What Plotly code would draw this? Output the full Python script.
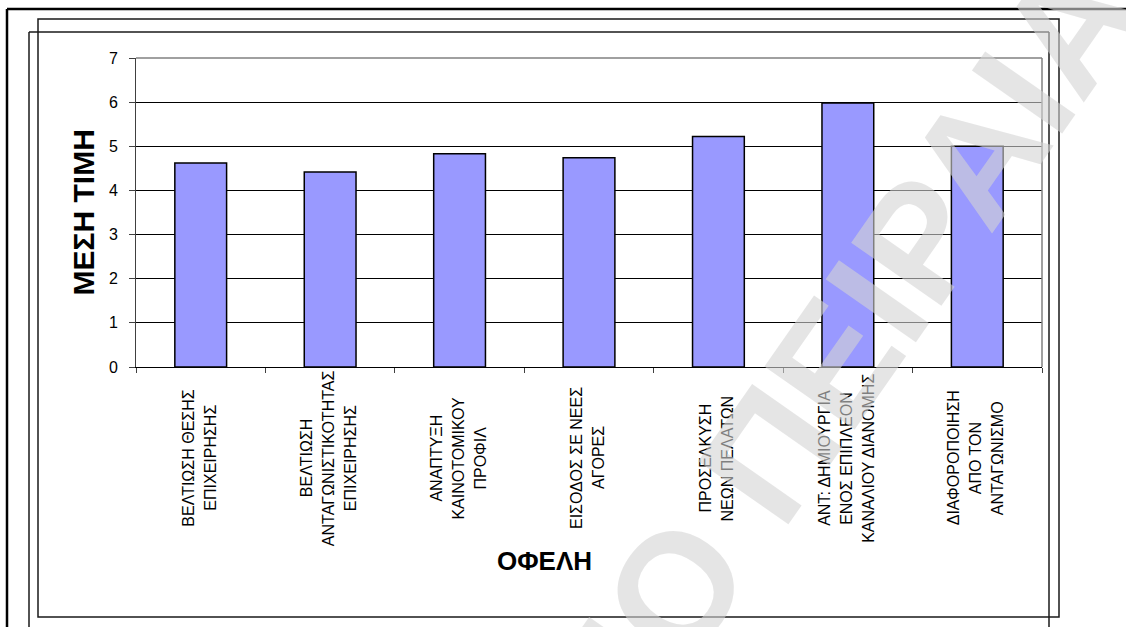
import plotly.graph_objects as go

# --- data -------------------------------------------------------------
categories = [
    "ΒΕΛΤΙΩΣΗ ΘΕΣΗΣ<br>ΕΠΙΧΕΙΡΗΣΗΣ",
    "ΒΕΛΤΙΩΣΗ<br>ΑΝΤΑΓΩΝΙΣΤΙΚΟΤΗΤΑΣ<br>ΕΠΙΧΕΙΡΗΣΗΣ",
    "ΑΝΑΠΤΥΞΗ<br>ΚΑΙΝΟΤΟΜΙΚΟΥ<br>ΠΡΟΦΙΛ",
    "ΕΙΣΟΔΟΣ ΣΕ ΝΕΕΣ<br>ΑΓΟΡΕΣ",
    "ΠΡΟΣΕΛΚΥΣΗ<br>ΝΕΩΝ ΠΕΛΑΤΩΝ",
    "ΑΝΤ: ΔΗΜΙΟΥΡΓΙΑ<br>ΕΝΟΣ ΕΠΙΠΛΕΟΝ<br>ΚΑΝΑΛΙΟΥ ΔΙΑΝΟΜΗΣ",
    "ΔΙΑΦΟΡΟΠΟΙΗΣΗ<br>ΑΠΟ ΤΟΝ<br>ΑΝΤΑΓΩΝΙΣΜΟ",
]
mean_values = [4.62, 4.42, 4.83, 4.74, 5.22, 5.98, 5.00]
y_ticks = [0, 1, 2, 3, 4, 5, 6, 7]

y_title = "ΜΕΣΗ ΤΙΜΗ"
x_title = "ΟΦΕΛΗ"
watermark = "ΠΑΝΕΠΙΣΤΗΜΙΟ ΠΕΙΡΑΙΑ"

# --- page geometry (pixels) -------------------------------------------
W, H = 1126, 627
PL, PR, PT, PB = 136, 1042, 58, 367   # plot area edges
FONT = "Arial, 'Liberation Sans', sans-serif"


def px(x):
    return (x - PL) / (PR - PL)


def py(y):
    return (PB - y) / (PB - PT)


fig = go.Figure(
    go.Bar(
        x=categories,
        y=mean_values,
        marker=dict(color="#9999FF", line=dict(color="#000000", width=1.5)),
        hoverinfo="x+y",
    )
)

# category labels: rotated, lines centred on each other
LABEL_SIZE = 16
LINE_GAP = 22
LABEL_CENTER_Y = 458
annotations = []
for cat in categories:
    lines = cat.split("<br>")
    n = len(lines)
    for i, line in enumerate(lines):
        annotations.append(dict(
            x=cat, xref="x", y=py(LABEL_CENTER_Y), yref="paper",
            text=line, showarrow=False, textangle=-90,
            xanchor="center", yanchor="middle",
            xshift=(i - (n - 1) / 2) * LINE_GAP - 2,
            font=dict(family=FONT, size=LABEL_SIZE, color="#000000"),
        ))

annotations.append(dict(
    x=px(83), y=0.5, xref="paper", yref="paper", text=y_title,
    showarrow=False, textangle=-90, xanchor="center", yanchor="middle",
    font=dict(family=FONT, size=30, color="#000000", weight="bold"),
))
annotations.append(dict(
    x=px(544), y=py(561), xref="paper", yref="paper", text=x_title,
    showarrow=False, xanchor="center", yanchor="middle",
    font=dict(family=FONT, size=26, color="#000000", weight="bold"),
))
annotations.append(dict(
    x=px(555), y=py(760), xref="paper", yref="paper", text=watermark,
    showarrow=False, textangle=-55, xanchor="center", yanchor="middle",
    font=dict(family=FONT, size=160, color="rgba(212,212,212,0.6)",
              weight="bold"),
))


def hline(x0, x1, y, color, width):
    return dict(type="line", xref="paper", yref="paper",
                x0=px(x0), x1=px(x1), y0=py(y), y1=py(y),
                line=dict(color=color, width=width), layer="above")


def vline(x, y0, y1, color, width):
    return dict(type="line", xref="paper", yref="paper",
                x0=px(x), x1=px(x), y0=py(y0), y1=py(y1),
                line=dict(color=color, width=width), layer="above")


shapes = [
    # page border
    hline(7, W, 9, "#000000", 2.5),
    vline(7, 9, H, "#000000", 2.5),
    # closed chart frame
    dict(type="rect", xref="paper", yref="paper",
         x0=px(38), x1=px(1059), y0=py(19), y1=py(617),
         line=dict(color="#1a1a1a", width=1.5), layer="above"),
    # open chart frame
    hline(29, 1049, 32, "#1a1a1a", 1.5),
    vline(29, 32, H + 5, "#1a1a1a", 1.5),
    vline(1049, 32, H + 5, "#1a1a1a", 1.5),
    # plot area border (top / right)
    hline(PL, PR, PT, "#808080", 1.5),
    vline(PR, PT, PB, "#808080", 1.5),
]

fig.update_layout(
    width=W, height=H,
    margin=dict(l=PL, r=W - PR, t=PT, b=H - PB, pad=0),
    paper_bgcolor="#FFFFFF", plot_bgcolor="#FFFFFF",
    bargap=0.6,
    showlegend=False,
    font=dict(family=FONT, color="#000000"),
    annotations=annotations,
    shapes=shapes,
    xaxis=dict(
        type="category", range=[-0.5, len(categories) - 0.5],
        showticklabels=False, showgrid=False, zeroline=False,
        ticks="outside", tickson="boundaries", ticklen=5,
        tickcolor="#404040", tickwidth=1,
        showline=True, linecolor="#000000", linewidth=1,
    ),
    yaxis=dict(
        range=[0, 7], tickvals=y_ticks, ticktext=[str(v) for v in y_ticks],
        ticks="outside", ticklen=6, tickcolor="#404040", tickwidth=1,
        ticklabelstandoff=8,
        tickfont=dict(family=FONT, size=16, color="#000000"),
        showgrid=True, gridcolor="#000000", gridwidth=1,
        zeroline=False, showline=True, linecolor="#404040", linewidth=1,
    ),
)

fig.write_html("out.html")
